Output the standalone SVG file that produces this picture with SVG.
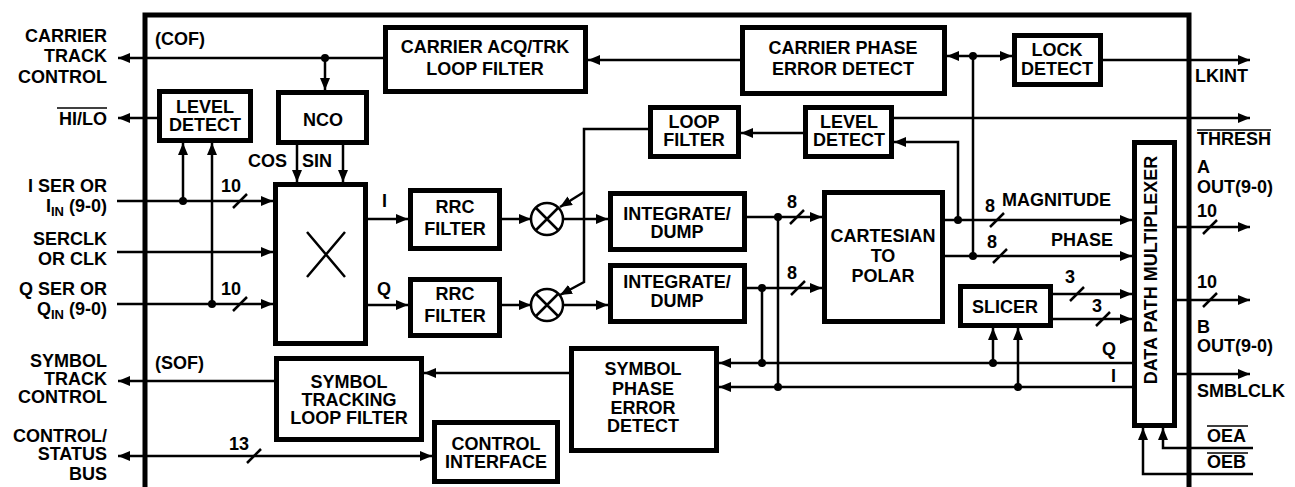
<svg xmlns="http://www.w3.org/2000/svg" width="1295" height="487" viewBox="0 0 1295 487">
<defs>
<style>
.box{fill:#fff;stroke:#000;stroke-width:5}
.ln{fill:none;stroke:#000;stroke-width:2.5}
.a{marker-end:url(#ah)}
.d{marker-start:url(#ah);marker-end:url(#ah)}
.t{font-family:"Liberation Sans",Arial,Helvetica,sans-serif;font-weight:bold;font-size:18px;fill:#000}
.c{text-anchor:middle}
.r{text-anchor:end}
.dot{fill:#000}
</style>
<marker id="ah" viewBox="0 0 12 10" refX="12" refY="5" markerWidth="12" markerHeight="10" markerUnits="userSpaceOnUse" orient="auto-start-reverse"><path d="M0,0L12,5L0,10z"/></marker>
</defs>
<rect width="1295" height="487" fill="#fff"/>

<g id="chip-border"><path class="ln" style="stroke-width:5" d="M145,487V15H1189V487"/></g>

<g id="connectors">
<path class="ln a" d="M117,201H273"/>
<path class="ln a" d="M117,252H273"/>
<path class="ln a" d="M117,304H273"/>
<path class="ln a" d="M183,201V143"/>
<path class="ln a" d="M212,304V143"/>
<path class="ln" d="M233,208L247,194M233,311L247,297"/>
<path class="ln a" d="M383,58H118"/>
<path class="ln a" d="M325,58V90"/>
<path class="ln a" d="M157,118H118"/>
<path class="ln a" d="M274,381H118"/>
<path class="ln d" d="M118,456H432"/>
<path class="ln" d="M247,463L261,449"/>
<path class="ln a" d="M297,145V182"/>
<path class="ln a" d="M343,145V182"/>
<path class="ln a" d="M368,219H408"/>
<path class="ln a" d="M368,305H408"/>
<path class="ln a" d="M502,219H531"/>
<path class="ln a" d="M502,305H531"/>
<path class="ln a" d="M563,219H608"/>
<path class="ln a" d="M563,305H608"/>
<path class="ln a" d="M747,217H822"/>
<path class="ln a" d="M747,288H822"/>
<path class="ln" d="M790,224L804,210M791,295L805,281"/>
<path class="ln" d="M778,217V387M762,288V363"/>
<path class="ln a" d="M648,129H584V282L560,295"/>
<path class="ln a" d="M584,192L560,207"/>
<path class="ln a" d="M803,133H741"/>
<path class="ln a" d="M958,220V142H894"/>
<path class="ln a" d="M894,118H1250"/>
<path class="ln a" d="M740,60H588"/>
<path class="ln d" d="M947,56H1012"/>
<path class="ln" d="M973,56V256"/>
<path class="ln a" d="M1103,60H1250"/>
<path class="ln a" d="M945,220H1132"/>
<path class="ln a" d="M945,256H1132"/>
<path class="ln" d="M990,227L1004,213M993,263L1007,249"/>
<path class="ln a" d="M1053,294H1132"/>
<path class="ln a" d="M1053,319H1132"/>
<path class="ln" d="M1070,301L1084,287M1096,326L1110,312"/>
<path class="ln a" d="M1132,363H719"/>
<path class="ln a" d="M1132,387H719"/>
<path class="ln a" d="M993,363V328"/>
<path class="ln a" d="M1018,387V328"/>
<path class="ln a" d="M569,373H424"/>
<path class="ln a" d="M1177,227H1250"/>
<path class="ln a" d="M1177,300H1250"/>
<path class="ln a" d="M1177,374H1250"/>
<path class="ln" d="M1203,234L1217,220M1203,307L1217,293"/>
<path class="ln a" d="M1253,448H1163V428"/>
<path class="ln a" d="M1253,474H1143V428"/>
<g class="dot">
<circle cx="183" cy="201" r="4"/><circle cx="212" cy="304" r="4"/>
<circle cx="325" cy="58" r="4"/>
<circle cx="778" cy="217" r="4"/><circle cx="762" cy="288" r="4"/>
<circle cx="778" cy="387" r="4"/><circle cx="762" cy="363" r="4"/>
<circle cx="958" cy="220" r="4"/><circle cx="973" cy="256" r="4"/>
<circle cx="973" cy="56" r="4"/>
<circle cx="993" cy="363" r="4"/><circle cx="1018" cy="387" r="4"/>
</g>
</g>

<g id="carrier-acq"><rect class="box" x="385.5" y="27.5" width="200" height="64"/>
<text class="t c" x="485" y="53">CARRIER ACQ/TRK</text><text class="t c" x="485" y="75">LOOP FILTER</text></g>
<g id="carrier-phase"><rect class="box" x="742.5" y="27.5" width="202" height="66"/>
<text class="t c" x="843" y="54">CARRIER PHASE</text><text class="t c" x="843" y="75">ERROR DETECT</text></g>
<g id="lock-detect"><rect class="box" x="1014.5" y="35.5" width="86" height="49"/>
<text class="t c" x="1057" y="56">LOCK</text><text class="t c" x="1057" y="75">DETECT</text></g>
<g id="level-detect-1"><rect class="box" x="159.5" y="91.5" width="91" height="49"/>
<text class="t c" x="205" y="113">LEVEL</text><text class="t c" x="205" y="131">DETECT</text></g>
<g id="nco"><rect class="box" x="278.5" y="92.5" width="88" height="50"/>
<text class="t c" x="323" y="126">NCO</text></g>
<g id="mixer-box"><rect class="box" x="275.5" y="184.5" width="90" height="159"/>
<path class="ln" d="M307,232L345,277M345,232L307,277"/></g>
<g id="rrc-1"><rect class="box" x="410.5" y="190.5" width="89" height="58"/>
<text class="t c" x="455" y="213">RRC</text><text class="t c" x="455" y="235">FILTER</text></g>
<g id="rrc-2"><rect class="box" x="410.5" y="279.5" width="89" height="56"/>
<text class="t c" x="455" y="300">RRC</text><text class="t c" x="455" y="322">FILTER</text></g>
<g id="mult-1"><circle class="ln" cx="547" cy="219" r="16" fill="#fff"/><path class="ln" d="M536,208L558,230M558,208L536,230"/></g>
<g id="mult-2"><circle class="ln" cx="547" cy="305" r="16" fill="#fff"/><path class="ln" d="M536,294L558,316M558,294L536,316"/></g>
<g id="integrate-1"><rect class="box" x="610.5" y="193.5" width="134" height="56"/>
<text class="t c" x="677" y="220">INTEGRATE/</text><text class="t c" x="677" y="238">DUMP</text></g>
<g id="integrate-2"><rect class="box" x="610.5" y="265.5" width="134" height="56"/>
<text class="t c" x="677" y="288">INTEGRATE/</text><text class="t c" x="677" y="307">DUMP</text></g>
<g id="cartesian"><rect class="box" x="824.5" y="192.5" width="118" height="129"/>
<text class="t c" x="883" y="242">CARTESIAN</text><text class="t c" x="883" y="262">TO</text><text class="t c" x="883" y="282">POLAR</text></g>
<g id="loop-filter"><rect class="box" x="650.5" y="107.5" width="88" height="49"/>
<text class="t c" x="694" y="128">LOOP</text><text class="t c" x="694" y="146">FILTER</text></g>
<g id="level-detect-2"><rect class="box" x="805.5" y="107.5" width="86" height="49"/>
<text class="t c" x="849" y="128">LEVEL</text><text class="t c" x="849" y="146">DETECT</text></g>
<g id="slicer"><rect class="box" x="960.5" y="286.5" width="90" height="39"/>
<text class="t c" x="1005" y="313">SLICER</text></g>
<g id="mux"><rect class="box" x="1134.5" y="142.5" width="40" height="283"/>
<text class="t c" transform="translate(1157,270) rotate(-90)">DATA PATH MULTIPLEXER</text></g>
<g id="symbol-phase"><rect class="box" x="571.5" y="348.5" width="145" height="102"/>
<text class="t c" x="643" y="375">SYMBOL</text><text class="t c" x="643" y="395">PHASE</text><text class="t c" x="643" y="414">ERROR</text><text class="t c" x="643" y="432">DETECT</text></g>
<g id="symbol-tracking"><rect class="box" x="276.5" y="358.5" width="145" height="81"/>
<text class="t c" x="349" y="388">SYMBOL</text><text class="t c" x="349" y="406">TRACKING</text><text class="t c" x="349" y="424">LOOP FILTER</text></g>
<g id="control-interface"><rect class="box" x="434.5" y="422.5" width="123" height="59"/>
<text class="t c" x="496" y="450">CONTROL</text><text class="t c" x="496" y="468">INTERFACE</text></g>

<g id="labels">
<text class="t r" x="107" y="42">CARRIER</text><text class="t r" x="107" y="62">TRACK</text><text class="t r" x="107" y="83">CONTROL</text>
<text class="t r" x="107" y="125">HI/LO</text><path class="ln" style="stroke-width:1.5" d="M57,108H107"/>
<text class="t r" x="107" y="192">I SER OR</text>
<text class="t r" x="107" y="212">I<tspan font-size="13" dy="4">IN</tspan><tspan dy="-4"> (9-0)</tspan></text>
<text class="t r" x="107" y="245">SERCLK</text><text class="t r" x="107" y="265">OR CLK</text>
<text class="t r" x="107" y="295">Q SER OR</text>
<text class="t r" x="107" y="315">Q<tspan font-size="13" dy="4">IN</tspan><tspan dy="-4"> (9-0)</tspan></text>
<text class="t r" x="107" y="367">SYMBOL</text><text class="t r" x="107" y="385">TRACK</text><text class="t r" x="107" y="403">CONTROL</text>
<text class="t r" x="107" y="442">CONTROL/</text><text class="t r" x="107" y="460">STATUS</text><text class="t r" x="107" y="480">BUS</text>
<text class="t" x="155" y="45">(COF)</text>
<text class="t" x="155" y="369">(SOF)</text>
<text class="t" x="248" y="167">COS</text><text class="t" x="302" y="167">SIN</text>
<text class="t" x="382" y="207">I</text><text class="t" x="377" y="295">Q</text>
<text class="t r" x="241" y="192">10</text><text class="t r" x="241" y="295">10</text>
<text class="t r" x="249" y="450">13</text>
<text class="t r" x="797" y="208">8</text><text class="t r" x="797" y="279">8</text>
<text class="t r" x="995" y="212">8</text><text class="t r" x="997" y="248">8</text>
<text class="t r" x="1075" y="283">3</text><text class="t r" x="1102" y="312">3</text>
<text class="t" x="1002" y="206">MAGNITUDE</text><text class="t r" x="1113" y="246">PHASE</text>
<text class="t" x="1102" y="355">Q</text><text class="t" x="1111" y="382">I</text>
<text class="t" x="1195" y="82">LKINT</text>
<text class="t" x="1197" y="145">THRESH</text><path class="ln" style="stroke-width:1.5" d="M1197,130H1271"/>
<text class="t" x="1197" y="173">A</text><text class="t" x="1197" y="193">OUT(9-0)</text>
<text class="t r" x="1217" y="217">10</text><text class="t r" x="1217" y="288">10</text>
<text class="t" x="1197" y="333">B</text><text class="t" x="1197" y="352">OUT(9-0)</text>
<text class="t" x="1197" y="397">SMBLCLK</text>
<text class="t" x="1207" y="442">OEA</text><path class="ln" style="stroke-width:1.5" d="M1207,426H1248"/>
<text class="t" x="1207" y="468">OEB</text><path class="ln" style="stroke-width:1.5" d="M1207,453H1248"/>
</g>
</svg>
